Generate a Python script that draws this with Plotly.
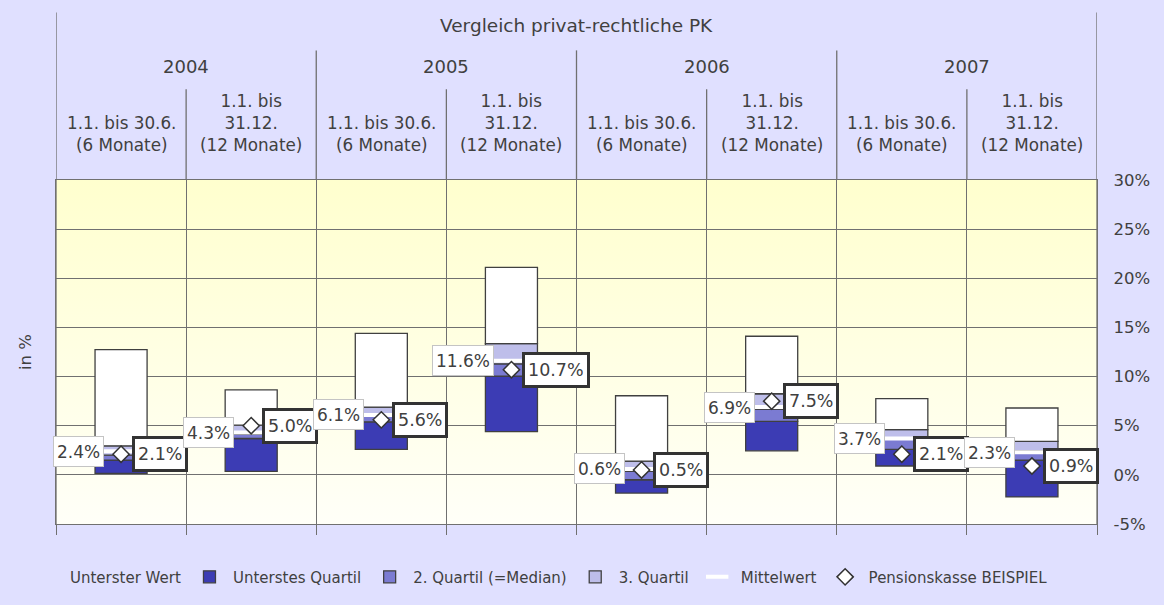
import base64
import plotly.graph_objects as go

# ---------------- data ----------------
group_title = "Vergleich privat-rechtliche PK"
years = ["2004", "2005", "2006", "2007"]
periods = ["1.1. bis 30.6.<br>(6 Monate)", "1.1. bis<br>31.12.<br>(12 Monate)"] * 4

unterster_wert = [0.15, 0.35, 2.6, 4.4, -1.85, 2.45, 0.9, -2.25]   # minimum
q1_top = [1.5, 3.7, 5.4, 10.05, -0.5, 5.45, 2.6, 1.5]               # top of Unterstes Quartil
median_top = [2.0, 4.15, 6.2, 11.3, 0.35, 6.7, 3.6, 2.45]           # top of 2. Quartil
q3_top = [2.95, 5.05, 6.9, 13.35, 1.4, 8.25, 4.6, 3.4]              # top of 3. Quartil
max_top = [12.75, 8.65, 14.4, 21.1, 8.05, 14.1, 7.75, 6.8]          # top of 4. Quartil
mittelwert = [2.4, 4.3, 6.1, 11.6, 0.6, 6.9, 3.7, 2.3]
pensionskasse = [2.1, 5.0, 5.6, 10.7, 0.5, 7.5, 2.1, 0.9]

y_ticks = [-5, 0, 5, 10, 15, 20, 25, 30]
y_ticktext = ["-5%", "0%", "5%", "10%", "15%", "20%", "25%", "30%"]

# ---------------- styling ----------------
FONT = "DejaVu Sans"
TXT = "#404040"
GRID = "#707070"
EDGE = "#404040"
C_DARK = "#3C3CB4"
C_MED = "#7B7BD2"
C_LIGHT = "#BEBEEA"

x = list(range(len(periods)))
W = 0.4

fig = go.Figure()

fig.add_bar(x=x, y=unterster_wert, base=[0] * len(x), width=W,
            name="Unterster Wert",
            marker=dict(color="rgba(0,0,0,0)", line=dict(width=0, color="rgba(0,0,0,0)")),
            hoverinfo="skip")
fig.add_bar(x=x, y=[b - a for a, b in zip(unterster_wert, q1_top)], base=unterster_wert, width=W,
            name="Unterstes Quartil",
            marker=dict(color=C_DARK, line=dict(width=1.3, color=EDGE)))
fig.add_bar(x=x, y=[b - a for a, b in zip(q1_top, median_top)], base=q1_top, width=W,
            name="2. Quartil (=Median)",
            marker=dict(color=C_MED, line=dict(width=1.3, color=EDGE)))
fig.add_bar(x=x, y=[b - a for a, b in zip(median_top, q3_top)], base=median_top, width=W,
            name="3. Quartil",
            marker=dict(color=C_LIGHT, line=dict(width=1.3, color=EDGE)))
fig.add_bar(x=x, y=[b - a for a, b in zip(q3_top, max_top)], base=q3_top, width=W,
            name="4. Quartil", showlegend=False,
            marker=dict(color="white", line=dict(width=1.3, color=EDGE)))

fig.add_scatter(x=x, y=mittelwert, mode="markers", name="Mittelwert",
                marker=dict(symbol="line-ew", size=26, line=dict(width=4, color="white"), color="white"))
fig.add_scatter(x=x, y=pensionskasse, mode="markers", name="Pensionskasse BEISPIEL",
                marker=dict(symbol="diamond", size=12.5, color="white", line=dict(width=1.5, color="#333333")))

annotations = []
for i in x:
    annotations.append(dict(x=i, y=pensionskasse[i], xref="x", yref="y", text=f"{pensionskasse[i]:.1f}%",
                            showarrow=False, xanchor="left", yanchor="middle", xshift=11,
                            height=24, valign="middle",
                            bgcolor="white", bordercolor="#333333", borderwidth=3, borderpad=3,
                            font=dict(family=FONT, size=17.5, color=TXT)))
for i in x:
    annotations.append(dict(x=i, y=mittelwert[i], xref="x", yref="y", text=f"{mittelwert[i]:.1f}%",
                            showarrow=False, xanchor="right", yanchor="middle", xshift=-17,
                            height=23, valign="middle",
                            bgcolor="white", bordercolor="#C4C4C4", borderwidth=1, borderpad=3,
                            font=dict(family=FONT, size=17, color=TXT)))

# header texts
PLOT_TOP = 180
PLOT_BOT = 525
PH = PLOT_BOT - PLOT_TOP


def py(px):
    return (PLOT_BOT - px) / PH


annotations.append(dict(x=(len(x) - 1) / 2, y=py(25), xref="x", yref="paper", text=group_title,
                        showarrow=False, xanchor="center", yanchor="middle",
                        font=dict(family=FONT, size=18.5, color=TXT)))
for k, yr in enumerate(years):
    annotations.append(dict(x=2 * k + 0.5, y=py(66), xref="x", yref="paper", text=yr,
                            showarrow=False, xanchor="center", yanchor="middle",
                            font=dict(family=FONT, size=18, color=TXT)))
for i, p in enumerate(periods):
    annotations.append(dict(x=i, y=py(157), xref="x", yref="paper", text=p,
                            showarrow=False, xanchor="center", yanchor="bottom", align="center",
                            font=dict(family=FONT, size=16.8, color=TXT)))
annotations.append(dict(x=-31 / 1041, y=0.5, xref="paper", yref="paper", text="in %",
                        showarrow=False, textangle=-90, xanchor="center", yanchor="middle",
                        font=dict(family=FONT, size=16.5, color=TXT)))

# header separator lines
shapes = []
for xv in [-0.5, len(x) - 0.5]:
    shapes.append(dict(type="line", xref="x", yref="paper", x0=xv, x1=xv, y0=0, y1=py(12),
                       line=dict(color=GRID, width=1.3)))
for xv in [1.5, 3.5, 5.5]:
    shapes.append(dict(type="line", xref="x", yref="paper", x0=xv, x1=xv, y0=1, y1=py(50),
                       line=dict(color=GRID, width=1.3)))
for xv in [0.5, 2.5, 4.5, 6.5]:
    shapes.append(dict(type="line", xref="x", yref="paper", x0=xv, x1=xv, y0=1, y1=py(89),
                       line=dict(color=GRID, width=1.3)))

svg = ('<svg xmlns="http://www.w3.org/2000/svg" width="10" height="100" viewBox="0 0 10 100" '
       'preserveAspectRatio="none"><defs><linearGradient id="g" x1="0" y1="0" x2="0" y2="1">'
       '<stop offset="0" stop-color="#FFFFCE"/><stop offset="1" stop-color="#FFFFF8"/>'
       '</linearGradient></defs><rect width="10" height="100" fill="url(#g)"/></svg>')
bg_src = "data:image/svg+xml;base64," + base64.b64encode(svg.encode()).decode()

fig.update_layout(
    width=1164, height=605,
    margin=dict(l=56, r=67, t=PLOT_TOP, b=605 - PLOT_BOT),
    paper_bgcolor="#E0E0FF",
    plot_bgcolor="#FFFFE8",
    barmode="overlay",
    font=dict(family=FONT, size=16.5, color=TXT),
    showlegend=True,
    legend=dict(orientation="h", x=(23 - 56) / 1041, xanchor="left", y=-0.151, yanchor="middle",
                bgcolor="rgba(0,0,0,0)", itemwidth=37,
                font=dict(family=FONT, size=15, color=TXT), traceorder="normal"),
    xaxis=dict(range=[-0.5, len(x) - 0.5], tickvals=[i - 0.5 for i in range(len(x) + 1)],
               showticklabels=False, ticks="outside", ticklen=10, tickcolor=GRID, tickwidth=1.3,
               showgrid=True, gridcolor=GRID, gridwidth=1.3, zeroline=False,
               showline=True, mirror=True, linecolor=GRID, linewidth=1.3, fixedrange=True),
    yaxis=dict(range=[-5, 30], tickvals=y_ticks, ticktext=y_ticktext, side="right",
               showgrid=True, gridcolor=GRID, gridwidth=1, zeroline=True, zerolinecolor=GRID,
               zerolinewidth=1, showline=True, mirror=True, linecolor=GRID, linewidth=1.3,
               ticks="", ticklabelstandoff=12,
               tickfont=dict(family=FONT, size=16.5, color=TXT), fixedrange=True),
    annotations=annotations,
    shapes=shapes,
    images=[dict(source=bg_src, xref="paper", yref="paper", x=0, y=1, sizex=1, sizey=1,
                 xanchor="left", yanchor="top", sizing="stretch", layer="below")],
)

fig.write_html("out.html", config={"displayModeBar": False},
               post_script="document.body.style.margin='0';document.body.style.overflow='hidden';")
